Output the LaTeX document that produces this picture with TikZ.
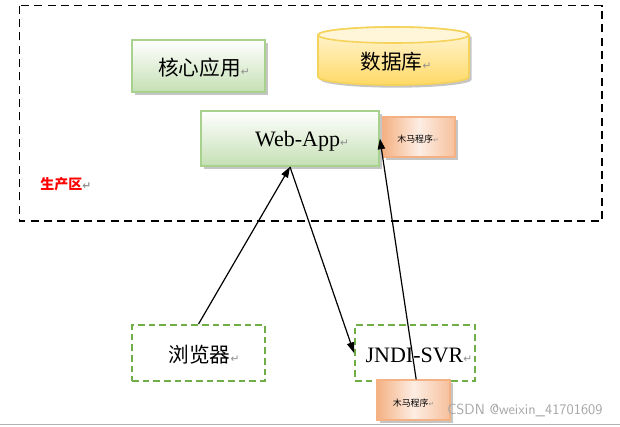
\documentclass[tikz,border=0pt]{standalone}
\usepackage{fontspec}
\setmainfont{Liberation Serif}
\newfontfamily\cjk{Noto Sans CJK SC}
\newfontfamily\dv{DejaVu Sans}
\usetikzlibrary{shadows,arrows.meta}
\definecolor{gborder}{HTML}{A9D18E}
\definecolor{gfill}{HTML}{C5E0B4}
\definecolor{gdash}{HTML}{70AD47}
\definecolor{yborder}{HTML}{F5D35A}
\definecolor{ytop}{HTML}{FFF6D9}
\definecolor{ybot}{HTML}{FFD966}
\definecolor{oborder}{HTML}{F4B183}
\definecolor{olight}{HTML}{FDEDE3}
\definecolor{mark}{HTML}{909090}
\tikzset{
  shad/.style={drop shadow={shadow xshift=2pt,shadow yshift=-2pt,fill=black!45,opacity=0.5}},
  greenbox/.style={draw=gborder,line width=1.3pt,top color=white,bottom color=gfill,shad,inner sep=0},
  trojan/.style={draw=oborder,line width=1pt,left color=oborder,right color=oborder!80,middle color=olight,shad,inner sep=0},
  dashbox/.style={draw=gdash,line width=1.4pt,dash pattern=on 5pt off 3pt,inner sep=0},
  big/.style={font=\fontsize{16.5}{18}\selectfont},
  cn/.style={font=\cjk\fontsize{15.5}{18}\selectfont},
  small/.style={font=\cjk\fontsize{6.7}{8}\selectfont},
  arr/.style={-{Triangle[length=8pt,width=5.5pt]},line width=0.9pt},
}
\newcommand{\pmark}{{\dv\color{mark}\fontsize{8}{9}\selectfont ↵}}
\newcommand{\smark}{{\dv\color{mark}\fontsize{5}{6}\selectfont ↵}}
\begin{document}
\begin{tikzpicture}[x=0.75pt,y=-0.75pt]
\useasboundingbox (0,0) rectangle (620,426);
% page line
\draw[black!30,line width=1.2pt] (0,424.5) -- (620,424.5);
% production zone
\draw[line width=1.1pt,dash pattern=on 6pt off 4pt] (19.5,5.5) rectangle (602,221);
\node[anchor=west,inner sep=0,font=\cjk\fontsize{10.5}{12}\selectfont\bfseries,text=red] (zone) at (40,184) {生产区\pmark};
% core app
\node[greenbox,minimum width=133*0.75pt,minimum height=52*0.75pt] (core) at (198.5,66) {};
\node[cn] (coret) at (204,68) {核心应用\pmark};
% database cylinder
\path[draw=yborder,line width=1.2pt,top color=ytop,bottom color=ybot,shad]
  (318,35) -- (318,77) arc[start angle=180,end angle=360,x radius=56.6pt,y radius=6pt]
  -- (469,35) arc[start angle=0,end angle=180,x radius=56.6pt,y radius=6pt] -- cycle;
\draw[yborder,line width=1.2pt,fill=ytop] (393.5,35) ellipse [x radius=56.6pt,y radius=6pt];
\node[cn] (db) at (396,62) {数据库\pmark};
% web app
\node[greenbox,minimum width=178*0.75pt,minimum height=55*0.75pt] (web) at (290,138.5) {};
\node[big] (webt) at (302,141) {Web-App\pmark};
% trojan 1
\node[trojan,minimum width=72*0.75pt,minimum height=40*0.75pt] (tj1) at (419,137) {};
\node[small] (tj1t) at (418,139) {木马程序\smark};
% browser
\node[dashbox,minimum width=133*0.75pt,minimum height=56*0.75pt] (br) at (198.5,353) {};
\node[cn] (brt) at (204,355) {浏览器\pmark};
% JNDI
\node[dashbox,minimum width=120*0.75pt,minimum height=56*0.75pt] (jndi) at (415,353) {};
\node[big] (jndit) at (419,355) {JNDI-SVR\pmark};
% trojan 2
\node[trojan,minimum width=73*0.75pt,minimum height=40*0.75pt] (tj2) at (413.5,400) {};
\node[small] (tj2t) at (413.5,403) {木马程序\smark};
% arrows
\draw[arr] (br.north) -- (web.south);
\draw[arr] (web.south) -- (jndi.west);
\draw[arr] ([xshift=2pt]tj2.north) -- (web.east);
% watermark
\node[anchor=west,inner sep=0,font=\fontsize{11}{12}\selectfont\sffamily,text=black!35] (wm) at (447,410) {CSDN @weixin\_41701609};
\end{tikzpicture}
\end{document}
